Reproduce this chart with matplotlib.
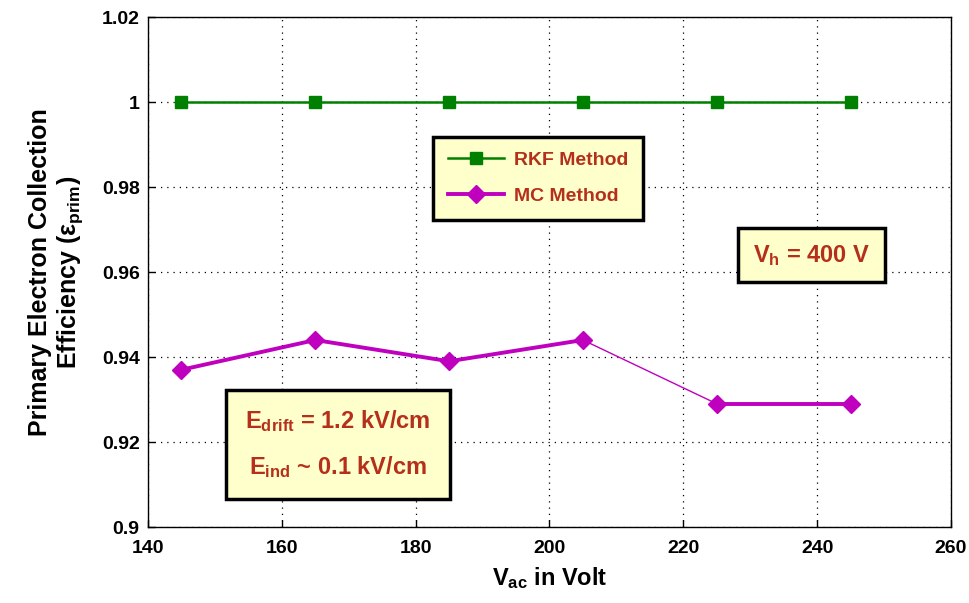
import matplotlib
matplotlib.use("Agg")
import matplotlib.pyplot as plt

# Data
v_ac = [145, 165, 185, 205, 225, 245]
rkf_eff = [1.0, 1.0, 1.0, 1.0, 1.0, 1.0]
mc_eff = [0.937, 0.944, 0.939, 0.944, 0.929, 0.929]
x_ticks = [140, 160, 180, 200, 220, 240, 260]
y_ticks = [0.9, 0.92, 0.94, 0.96, 0.98, 1.0, 1.02]
y_tick_labels = ["0.9", "0.92", "0.94", "0.96", "0.98", "1", "1.02"]

fam = "Liberation Sans"
plt.rcParams["font.family"] = [fam, "DejaVu Sans"]
plt.rcParams["font.weight"] = "bold"
plt.rcParams["mathtext.fontset"] = "custom"
plt.rcParams["mathtext.rm"] = f"{fam}:bold"
plt.rcParams["mathtext.bf"] = f"{fam}:bold"
plt.rcParams["mathtext.it"] = f"{fam}:bold"
plt.rcParams["mathtext.default"] = "rm"

fig = plt.figure(figsize=(9.69, 6.03), dpi=100)
ax = fig.add_axes([0.1527, 0.126, 0.8287, 0.8458])

green = "#008000"
magenta = "#bf00bf"
txt_col = "#b5301c"

ax.plot(v_ac, rkf_eff, color=green, lw=1.8, marker="s", ms=9,
        label="RKF Method", zorder=3)
# MC series: thin connecting segment between the 4th and 5th points
ax.plot(v_ac[3:5], mc_eff[3:5], color=magenta, lw=1.0, zorder=3)
ax.plot(v_ac[:4], mc_eff[:4], color=magenta, lw=2.8, marker="D", ms=9,
        label="MC Method", zorder=3)
ax.plot(v_ac[4:], mc_eff[4:], color=magenta, lw=2.8, marker="D", ms=9, zorder=3)

ax.set_xlim(140, 260)
ax.set_ylim(0.9, 1.02)
ax.set_xticks(x_ticks)
ax.set_yticks(y_ticks)
ax.set_yticklabels(y_tick_labels)
ax.tick_params(direction="in", length=5, labelsize=14, width=1)
ax.tick_params(axis="x", pad=9)
ax.tick_params(axis="y", pad=6)
ax.grid(True, linestyle=(0, (1, 4)), color="black", lw=0.9)
for s in ax.spines.values():
    s.set_linewidth(1)

ax.set_xlabel("V$_{ac}$ in Volt", fontsize=17, fontweight="bold", labelpad=6)
ax.set_ylabel("Primary Electron Collection\nEfficiency (\u03b5$_{prim}$)",
              fontsize=18, fontweight="bold", labelpad=12, linespacing=1.15)

leg = ax.legend(loc="upper left", bbox_to_anchor=(0.355, 0.765), fontsize=14,
                frameon=True, fancybox=False, handlelength=2.9,
                borderpad=0.75, labelspacing=0.95, borderaxespad=0,
                handletextpad=0.5)
leg.get_frame().set_facecolor("#ffffcc")
leg.get_frame().set_edgecolor("black")
leg.get_frame().set_linewidth(2.5)
leg.get_frame().set_alpha(1)
for t in leg.get_texts():
    t.set_color(txt_col)
    t.set_fontweight("bold")

ax.text(0.826, 0.533, "V$_{h}$ = 400 V", transform=ax.transAxes, fontsize=17,
        color=txt_col, ha="center", va="center", fontweight="bold",
        bbox=dict(boxstyle="square,pad=0.62", facecolor="#ffffcc",
                  edgecolor="black", lw=2.5))
ax.text(0.2366, 0.162, "E$_{drift}$ = 1.2 kV/cm\nE$_{ind}$ ~ 0.1 kV/cm",
        transform=ax.transAxes, fontsize=17, color=txt_col, ha="center",
        va="center", linespacing=2.0, fontweight="bold",
        bbox=dict(boxstyle="square,pad=0.8", facecolor="#ffffcc",
                  edgecolor="black", lw=2.5))

fig.savefig("out.png", dpi=100)
